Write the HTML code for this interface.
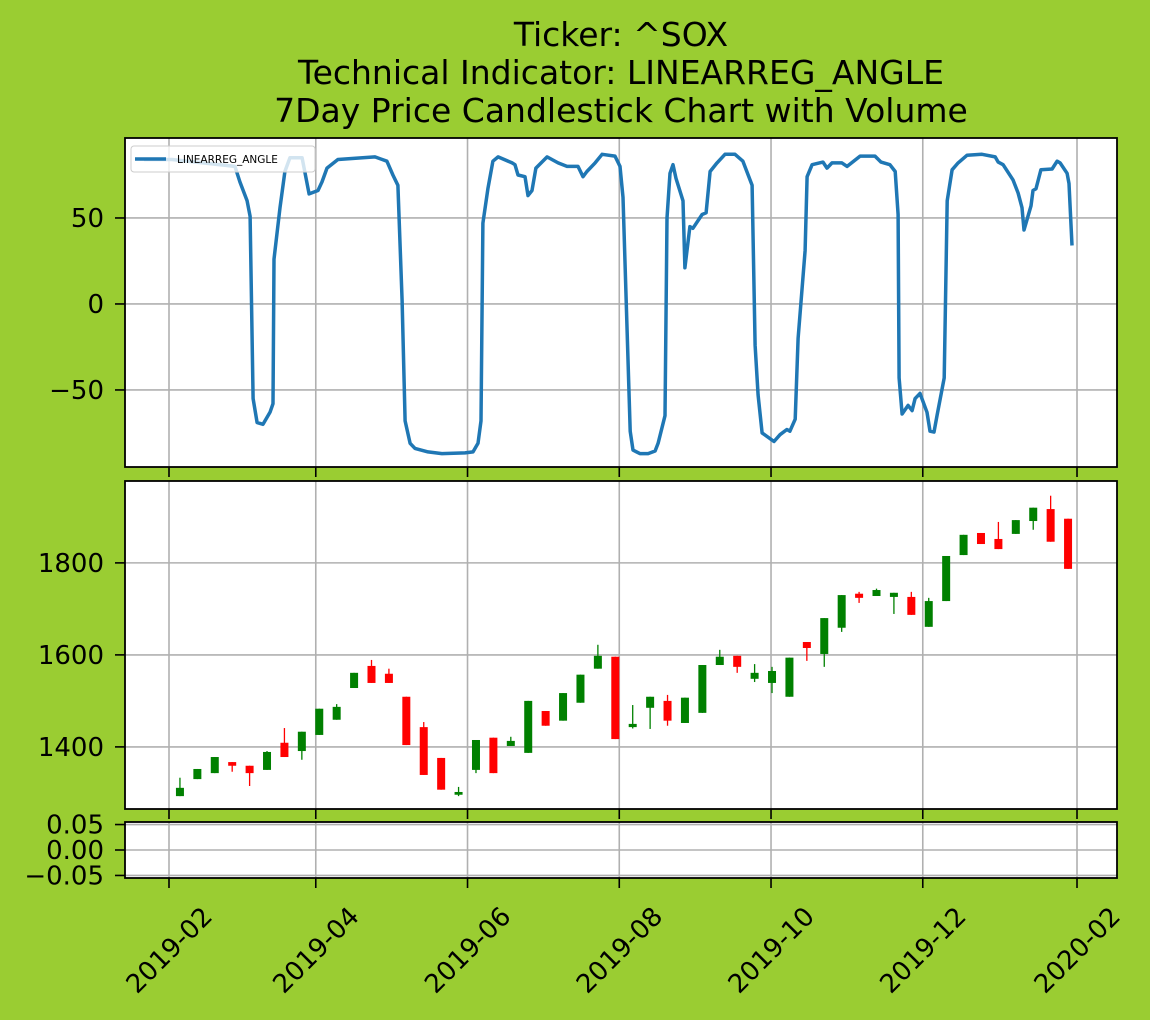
<!DOCTYPE html>
<html><head><meta charset="utf-8"><style>
body{margin:0;background:#9acd32;}
svg{display:block;font-family:"DejaVu Sans","Liberation Sans",sans-serif;}
</style></head><body>
<svg id="chart" width="1150" height="1020" viewBox="0 0 1150 1020" xmlns="http://www.w3.org/2000/svg">
<rect width="1150" height="1020" fill="#9acd32"/>
<g font-size="33" text-anchor="middle" fill="#000">
<text x="621" y="46">Ticker: ^SOX</text>
<text x="621" y="84">Technical Indicator: LINEARREG_ANGLE</text>
<text x="621" y="122">7Day Price Candlestick Chart with Volume</text>
</g>
<g id="g"></g>
</svg>
<script>
// Indicator series: day offsets from 2019-02-01 and values
const lineDays=[-10,1.2,26.5,28.5,31.4,32.6,33.8,35.4,37.8,40.6,41.8,42.2,44.6,46.6,48.6,53.5,56.3,59.9,61.5,63.5,67.9,82.8,87.6,90,92,93.7,94.9,96.9,98.9,104.1,109.7,119,122.2,124.2,125.4,126.2,128.2,130.2,132.3,137.9,139.1,140.3,143.1,144.3,145.9,147.5,152,156.4,160,164.4,166.4,168,171.3,174.1,179.3,181.3,182.5,185.4,186.5,189.3,192.6,195.4,196.6,199.4,200.2,201.4,202.6,203.8,206.6,207.4,209.4,210.6,214.3,215.9,217.5,220.3,223.5,227.5,230.7,234.4,235.6,236.8,238.4,243.2,245.6,248.4,249.6,251.7,252.9,255.7,256.5,258.5,262.9,264.5,266.5,270.5,272.6,277.8,283.8,286.2,289.8,291.9,293.1,293.5,294.7,297.1,298.7,299.9,301.9,304.7,305.9,307.5,308.7,311.6,312.8,314.8,317.2,320.8,326.8,332.1,333.3,335.3,339.3,341.3,342.9,343.7,346.5,347.3,348.5,350.5,355,357,358.2,361,361.8,363];
const lineVals=[84,84,80,71,60,51,-55,-69,-70,-63,-58,26,56,77,85,85,64,66,71,79,84,85.5,83,75,69,2,-68,-81,-84,-86,-87,-86.6,-86,-81,-68,47,67,83,85.5,82,81,75,74,63,66,79,85.5,82,80,80,74,77,82,87,86,80,62,-74,-85,-87,-87,-85.5,-81,-65,50,76,81,73,60,21,45,44,52,53,77,82,87,87,83,69,-24,-53,-75,-80,-76,-73,-74,-67,-20,31,74,81,82.5,79,82,82,80,86,86,82.5,81,77,52,-43,-64,-59,-62,-55,-52,-63,-74,-74.5,-65,-43,60,78,82,86.5,87,85.5,82.5,81,72,64.5,56,43,57,66,67,78,78.5,83,82,76,70,34];
// Weekly candles
const opens=[1293,1330,1343,1367,1359,1350,1409,1391,1426,1459,1528,1576,1559,1509,1443,1376,1296,1350,1420,1402,1387,1478,1457,1496,1570,1596,1443,1485,1500,1452,1474,1578,1598,1548,1539,1509,1628,1602,1659,1733,1728,1726,1726,1661,1717,1817,1865,1852,1863,1891,1917,1896];
const closes=[1311,1352,1378,1359,1343,1389,1378,1433,1483,1487,1561,1539,1539,1404,1339,1307,1302,1415,1343,1413,1500,1446,1517,1557,1598,1417,1450,1509,1457,1507,1578,1596,1574,1561,1565,1594,1615,1680,1730,1724,1741,1735,1687,1717,1815,1861,1841,1830,1893,1920,1846,1787];
const highs=[1333,1352,1378,1367,1359,1391,1441,1433,1483,1493,1561,1589,1570,1509,1454,1376,1313,1415,1420,1422,1500,1478,1517,1557,1622,1596,1491,1509,1513,1507,1578,1611,1598,1580,1574,1594,1628,1680,1730,1737,1744,1735,1737,1724,1815,1861,1865,1889,1893,1920,1946,1896];
const lows=[1293,1330,1343,1346,1315,1350,1378,1372,1426,1459,1528,1539,1539,1404,1339,1307,1293,1343,1343,1402,1387,1446,1457,1496,1570,1417,1440,1439,1446,1452,1474,1578,1561,1541,1517,1509,1587,1574,1650,1713,1728,1689,1687,1661,1717,1817,1841,1830,1863,1872,1846,1787];
const xTickLabels=["2019-02","2019-04","2019-06","2019-08","2019-10","2019-12","2020-02"];
const xTickDays=[0,59,120,181,242,303,365];
const topTicks=[50,0,-50];
const midTicks=[1400,1600,1800];
const botTicks=[0.05,0,-0.05];

const NS="http://www.w3.org/2000/svg";
const root=document.getElementById('g');
function mk(tag,attrs,parent){const e=document.createElementNS(NS,tag);for(const k in attrs)e.setAttribute(k,attrs[k]);(parent||root).appendChild(e);return e;}
const L=125,R=1117;
const X=d=>169+d*2.4877;
const P1={t:138,b:467,min:-94.8,max:96.5};
const P2={t:481,b:809,min:1265,max:1978};
const P3={t:822,b:878,min:-0.055,max:0.055};
const Y=(p,v)=>p.b-(v-p.min)/(p.max-p.min)*(p.b-p.t);
const fmtMinus=s=>s.replace('-','\u2212');

[P1,P2,P3].forEach((p,pi)=>{
  const bg=mk('rect',{x:L,y:p.t,width:R-L,height:p.b-p.t,fill:'#fff'});
  
  
  xTickDays.forEach(d=>{
    const gl=mk('line',{x1:X(d),x2:X(d),y1:p.t,y2:p.b,stroke:'#b0b0b0','stroke-width':1.6});
    
    
    const tk=mk('line',{x1:X(d),x2:X(d),y1:p.b,y2:p.b+10,stroke:'#000','stroke-width':1.6});
    
    
  });
  const ticks=pi===0?topTicks:pi===1?midTicks:botTicks;
  ticks.forEach(v=>{
    const y=Y(p,v);
    const gl=mk('line',{x1:L,x2:R,y1:y,y2:y,stroke:'#b0b0b0','stroke-width':1.6});
    
    
    const tk=mk('line',{x1:L-10,x2:L,y1:y,y2:y,stroke:'#000','stroke-width':1.6});
    
    
    const lab=pi===2?(v===0?'0.00':v.toFixed(2)):String(v);
    const t=mk('text',{x:L-21,y:y+9,'text-anchor':'end','font-size':26,fill:'#000'});
    t.textContent=fmtMinus(lab);
    
    
  });
});

// line
let dstr='';
lineDays.forEach((d,i)=>{dstr+=(i?'L':'M')+X(d).toFixed(1)+','+Y(P1,lineVals[i]).toFixed(1);});
const clip=mk('clipPath',{id:'c1'});mk('rect',{x:L,y:P1.t,width:R-L,height:P1.b-P1.t},clip);
const ln=mk('path',{d:dstr,fill:'none',stroke:'#1f77b4','stroke-width':3.5,'clip-path':'url(#c1)','stroke-linejoin':'round'});



// candles
opens.forEach((o,i)=>{
  const c=closes[i],x=X(4.4+7*i);
  const col=c>=o?'#008000':'#ff0000';
  const w=mk('line',{x1:x,x2:x,y1:Y(P2,highs[i]),y2:Y(P2,lows[i]),stroke:col,'stroke-width':1.3});
  
  
  const yt=Y(P2,Math.max(o,c)),yb=Y(P2,Math.min(o,c));
  const b=mk('rect',{x:x-4,y:yt,width:8,height:Math.max(1.5,yb-yt),fill:col});
  
  
});

// spines
[P1,P2,P3].forEach((p,pi)=>{
  const s=mk('rect',{x:L,y:p.t,width:R-L,height:p.b-p.t,fill:'none',stroke:'#000','stroke-width':1.8});
  
  
});

// legend
const lg=mk('g',{});


mk('rect',{x:131,y:146,width:184,height:26,rx:3,fill:'#fff','fill-opacity':0.8,stroke:'#ccc'},lg);
mk('line',{x1:135,x2:166,y1:159,y2:159,stroke:'#1f77b4','stroke-width':3.5},lg);
const lt=mk('text',{x:177,y:163,'font-size':10.5,fill:'#000'},lg);
lt.textContent='LINEARREG_ANGLE';

// x tick labels
xTickLabels.forEach((s,i)=>{
  const x=X(xTickDays[i]);
  const t=mk('text',{x:x,y:959,'text-anchor':'middle','font-size':26,fill:'#000',transform:'rotate(-45 '+x+' 950)'});
  t.textContent=s;
  
  
});
</script>
</body></html>
